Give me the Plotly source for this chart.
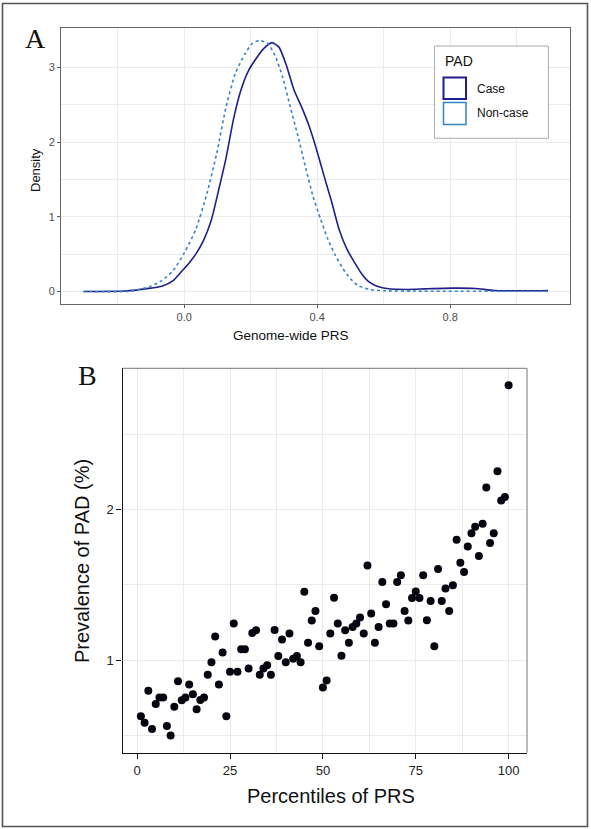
import plotly.graph_objects as go

# ---------------- Data ----------------
# Panel A: density curves of genome-wide PRS
case_x = [-0.303, -0.18, -0.101, -0.067, -0.033, -0.010, 0.0125, 0.035, 0.058, 0.081, 0.103, 0.126,
          0.149, 0.171, 0.194, 0.217, 0.239, 0.264, 0.285, 0.307, 0.330, 0.353, 0.376, 0.398,
          0.421, 0.444, 0.466, 0.489, 0.512, 0.534, 0.557, 0.580, 0.614, 0.671, 0.727, 0.807,
          0.875, 0.932, 1.034, 1.094]
case_y = [0.0, 0.005, 0.044, 0.07, 0.146, 0.257, 0.368, 0.50, 0.68, 0.945, 1.344, 1.787,
          2.32, 2.70, 2.96, 3.12, 3.25, 3.33, 3.27, 3.03, 2.70, 2.47, 2.21, 1.90,
          1.54, 1.19, 0.83, 0.57, 0.39, 0.235, 0.124, 0.07, 0.035, 0.027, 0.035, 0.044,
          0.04, 0.013, 0.009, 0.013]

noncase_x = [-0.303, -0.158, -0.101, -0.067, -0.033, 0.001, 0.035, 0.069, 0.098, 0.126, 0.154,
             0.183, 0.205, 0.226, 0.251, 0.273, 0.296, 0.319, 0.342, 0.364, 0.387, 0.410,
             0.432, 0.455, 0.478, 0.500, 0.523, 0.557, 0.603, 0.693, 1.094]
noncase_y = [0.0, 0.005, 0.07, 0.146, 0.28, 0.52, 0.83, 1.32, 1.85, 2.47, 2.92,
             3.18, 3.32, 3.36, 3.32, 3.16, 2.87, 2.47, 2.08, 1.68, 1.28, 0.97,
             0.70, 0.48, 0.30, 0.17, 0.08, 0.027, 0.009, 0.004, 0.002]

group_names = ["Case", "Non-case"]

# Panel B: prevalence of PAD (%) by PRS percentile
percentiles = list(range(1, 101))
prevalence = [0.628, 0.584, 0.796, 0.542, 0.708, 0.752, 0.752, 0.562, 0.500, 0.690,
              0.860, 0.733, 0.752, 0.839, 0.774, 0.673, 0.735, 0.752, 0.903, 0.987,
              1.157, 0.839, 1.051, 0.628, 0.923, 1.243, 0.923, 1.072, 1.072, 0.945,
              1.181, 1.199, 0.903, 0.945, 0.967, 0.903, 1.200, 1.028, 1.137, 0.987,
              1.177, 1.009, 1.028, 0.987, 1.455, 1.115, 1.264, 1.327, 1.093, 0.818,
              0.865, 1.177, 1.415, 1.243, 1.029, 1.199, 1.115, 1.221, 1.243, 1.283,
              1.177, 1.630, 1.310, 1.115, 1.221, 1.520, 1.372, 1.243, 1.243, 1.520,
              1.564, 1.327, 1.264, 1.413, 1.457, 1.413, 1.564, 1.265, 1.394, 1.093,
              1.606, 1.394, 1.476, 1.327, 1.498, 1.801, 1.648, 1.586, 1.756, 1.843,
              1.887, 1.692, 1.907, 2.148, 1.778, 1.843, 2.256, 2.062, 2.084, 2.827]

# ---------------- Figure ----------------
W, H = 591, 829
def px(x):
    return x / W
def py(y):
    return 1 - y / H

CASE_COL = "#1e1e8c"
NON_COL = "#3484c4"
GRID = "#ebebeb"
FONT = "Liberation Sans"

fig = go.Figure()

fig.add_trace(go.Scatter(x=case_x, y=case_y, mode="lines", name=group_names[0],
                         line=dict(color=CASE_COL, width=1.6, shape="spline", smoothing=0.6),
                         xaxis="x", yaxis="y", showlegend=False))
fig.add_trace(go.Scatter(x=noncase_x, y=noncase_y, mode="lines", name=group_names[1],
                         line=dict(color=NON_COL, width=1.6, dash="dot", shape="spline", smoothing=0.6),
                         xaxis="x", yaxis="y", showlegend=False))

fig.add_trace(go.Scatter(x=percentiles, y=prevalence, mode="markers", name="Prevalence",
                         marker=dict(color="#05050f", size=8, line=dict(width=0)),
                         xaxis="x2", yaxis="y2", showlegend=False))

axA = dict(showline=True, linecolor="#666666", linewidth=1, mirror=True,
           gridcolor=GRID, gridwidth=1.1, zeroline=False,
           ticks="outside", ticklen=3, tickcolor="#555555", tickwidth=1,
           tickfont=dict(family=FONT, size=11, color="#4d4d4d"))

fig.update_layout(
    width=W, height=H,
    margin=dict(l=0, r=0, t=0, b=0),
    paper_bgcolor="white", plot_bgcolor="white",
    showlegend=False,
    xaxis=dict(axA, domain=[px(61.1), px(570.3)], range=[-0.370, 1.161],
               tickvals=[0.0, 0.4, 0.8], ticktext=["0.0", "0.4", "0.8"],
               minor=dict(tickvals=[-0.2, 0.2, 0.6, 1.0], showgrid=True, gridcolor=GRID, gridwidth=0.6, ticks=""),
               anchor="y"),
    yaxis=dict(axA, domain=[py(304), py(27.7)], range=[-0.168, 3.53],
               tickvals=[0, 1, 2, 3],
               minor=dict(tickvals=[0.5, 1.5, 2.5], showgrid=True, gridcolor=GRID, gridwidth=0.6, ticks=""),
               anchor="x"),
    xaxis2=dict(showline=True, linecolor="#111111", linewidth=1.4, mirror=False,
                gridcolor=GRID, gridwidth=1.3, zeroline=False,
                ticks="outside", ticklen=5, tickcolor="#111111", tickwidth=1.2,
                tickfont=dict(family=FONT, size=13, color="#222222"),
                domain=[px(122.5), px(527)], range=[-3.95, 104.95],
                tickvals=[0, 25, 50, 75, 100],
                minor=dict(tickvals=[12.5, 37.5, 62.5, 87.5], showgrid=True, gridcolor=GRID, gridwidth=0.7, ticks=""),
                anchor="y2"),
    yaxis2=dict(showline=True, linecolor="#111111", linewidth=1.4, mirror=False,
                gridcolor=GRID, gridwidth=1.3, zeroline=False,
                ticks="outside", ticklen=5, tickcolor="#111111", tickwidth=1.2,
                tickfont=dict(family=FONT, size=13, color="#222222"),
                domain=[py(752.7), py(368.3)], range=[0.385, 2.94],
                tickvals=[1, 2],
                minor=dict(tickvals=[0.5, 1.5, 2.5], showgrid=True, gridcolor=GRID, gridwidth=0.7, ticks=""),
                anchor="x2"),
)

shapes = []
# outer frame
shapes.append(dict(type="rect", xref="paper", yref="paper",
                   x0=px(2.5), x1=px(587.5), y0=py(826.5), y1=py(3.5),
                   line=dict(color="#555555", width=1.6), fillcolor="rgba(0,0,0,0)"))
# panel B thin top/right border
shapes.append(dict(type="path", xref="paper", yref="paper",
                   path=f"M {px(122.5)},{py(368.3)} L {px(527)},{py(368.3)} L {px(527)},{py(752.7)}",
                   line=dict(color="#777777", width=1)))
# legend box panel A
shapes.append(dict(type="rect", xref="paper", yref="paper",
                   x0=px(434.6), x1=px(548.4), y0=py(138.3), y1=py(46),
                   line=dict(color="#aaaaaa", width=1), fillcolor="white"))
shapes.append(dict(type="rect", xref="paper", yref="paper",
                   x0=px(443.5), x1=px(466), y0=py(99), y1=py(77.5),
                   line=dict(color=CASE_COL, width=2), fillcolor="white"))
shapes.append(dict(type="rect", xref="paper", yref="paper",
                   x0=px(443.5), x1=px(466), y0=py(124.5), y1=py(102.5),
                   line=dict(color=NON_COL, width=1.5), fillcolor="white"))
fig.update_layout(shapes=shapes)

ann = []
def A(text, x, y, size, xanchor="center", yanchor="middle", angle=0, family=FONT, color="#111111"):
    ann.append(dict(text=text, x=px(x), y=py(y), xref="paper", yref="paper", showarrow=False,
                    xanchor=xanchor, yanchor=yanchor, textangle=angle,
                    font=dict(family=family, size=size, color=color)))

A("A", 35, 39, 28, family="Liberation Serif")
A("B", 87, 376, 28, family="Liberation Serif")
A("Density", 35, 170, 13, angle=-90)
A("Genome-wide PRS", 291, 335, 13.5)
A("PAD", 443, 61, 14, xanchor="left")
A(group_names[0], 475, 88.5, 12, xanchor="left")
A(group_names[1], 475, 113.5, 12, xanchor="left")
A("Percentiles of PRS", 331, 796, 20)
A("Prevalence of PAD (%)", 82, 561, 20, angle=-90)
fig.update_layout(annotations=ann)

fig.write_html("out.html",
               config={"displayModeBar": False},
               post_script="document.body.style.margin='0';document.body.style.overflow='hidden';")
